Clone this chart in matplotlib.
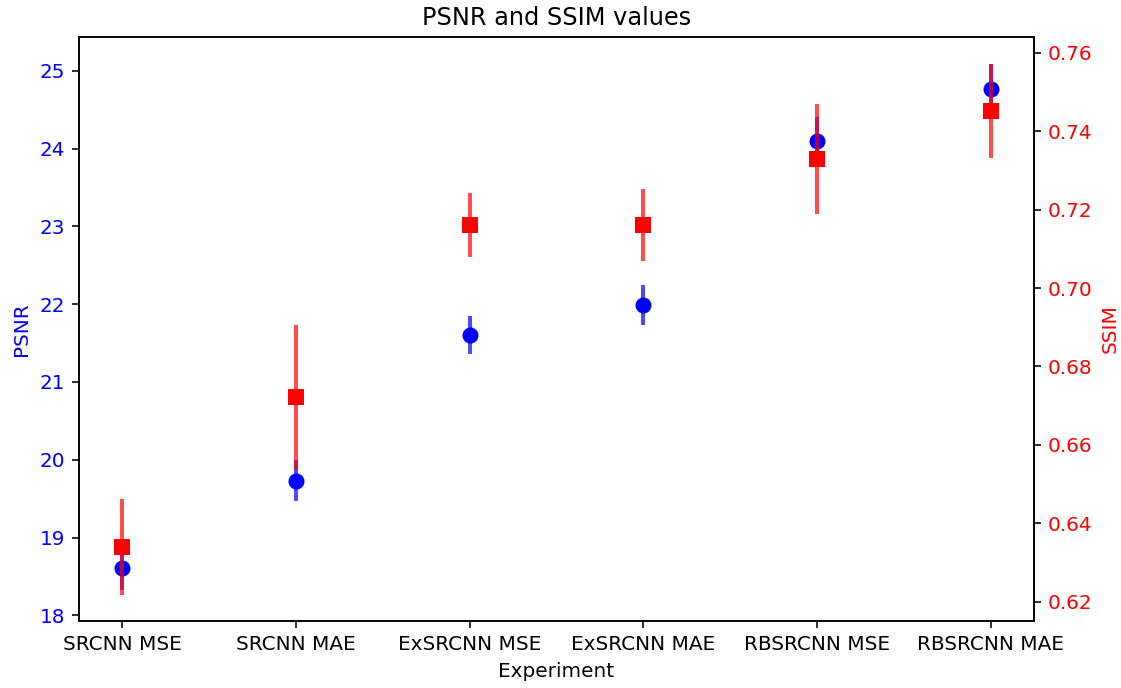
import numpy as np
import matplotlib
matplotlib.use('Agg')
import matplotlib.pyplot as plt

# Data
experiments = ['SRCNN MSE', 'SRCNN MAE', 'ExSRCNN MSE', 'ExSRCNN MAE', 'RBSRCNN MSE', 'RBSRCNN MAE']
psnr_mean = [18.61, 19.73, 21.60, 21.99, 24.10, 24.76]
psnr_std = [0.28, 0.26, 0.245, 0.26, 0.31, 0.32]
ssim_mean = [0.6339, 0.6721, 0.7161, 0.7161, 0.7329, 0.7452]
ssim_std = [0.0122, 0.0184, 0.0082, 0.0092, 0.0140, 0.0120]

x = np.arange(len(experiments))

fig, ax1 = plt.subplots(figsize=(1121 / 144, 688 / 144), dpi=144)
fig.subplots_adjust(left=0.0705, right=0.9224, top=0.9462, bottom=0.0974)

ax1.errorbar(x, psnr_mean, yerr=psnr_std, fmt='o', color='b',
             ecolor=(0, 0, 1, 0.7), elinewidth=2, markersize=7)
ax1.set_xlabel('Experiment')
ax1.set_ylabel('PSNR', color='b')
ax1.tick_params(axis='y', labelcolor='b')
ax1.set_xticks(x)
ax1.set_xticklabels(experiments)
ax1.set_ylim(17.927, 25.433)

ax2 = ax1.twinx()
ax2.errorbar(x, ssim_mean, yerr=ssim_std, fmt='s', color='r',
             ecolor=(1, 0, 0, 0.7), elinewidth=2, markersize=7)
ax2.set_ylabel('SSIM', color='r')
ax2.tick_params(axis='y', labelcolor='r')
ax2.set_ylim(0.6151, 0.764)

plt.title('PSNR and SSIM values')
plt.savefig('out.png')
